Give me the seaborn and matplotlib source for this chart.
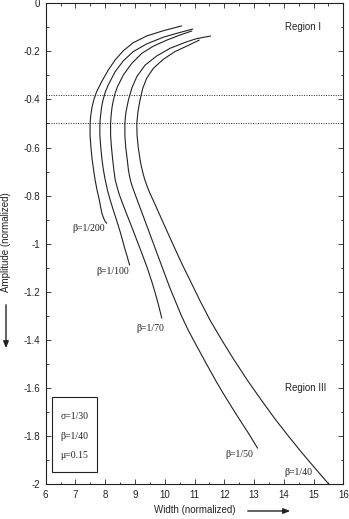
import matplotlib
matplotlib.use("Agg")
import matplotlib.pyplot as plt
import seaborn as sns
import pandas as pd
from matplotlib.ticker import MultipleLocator, FuncFormatter
from matplotlib.patches import Rectangle, FancyArrowPatch

sns.set_style("ticks")
plt.rcParams['font.family'] = ['Liberation Sans', 'DejaVu Sans']
plt.rcParams['axes.unicode_minus'] = False

# ---- data (width, amplitude) ----
x_b200 = [10.57, 9.95, 9.39, 8.94, 8.61, 8.33, 8.10, 7.88, 7.71, 7.62, 7.56, 7.515, 7.49, 7.49, 7.52, 7.56, 7.61,
          7.66, 7.73, 7.80, 7.85, 7.89, 7.95, 8.01, 8.05]
y_b200 = [-0.094, -0.114, -0.136, -0.164, -0.197, -0.236, -0.278, -0.326, -0.368, -0.40, -0.43, -0.465, -0.50,
          -0.55, -0.60, -0.65, -0.694, -0.735, -0.78, -0.818, -0.85, -0.875, -0.895, -0.91, -0.915]

x_b100 = [10.94, 10.40, 9.95, 9.39, 8.94, 8.61, 8.33, 8.10, 8.00, 7.93, 7.88, 7.845, 7.82, 7.82, 7.85, 7.89,
          7.94, 8.00, 8.08, 8.17, 8.27, 8.38, 8.50, 8.59, 8.67, 8.73, 8.77, 8.82]
y_b100 = [-0.107, -0.125, -0.141, -0.169, -0.201, -0.239, -0.285, -0.340, -0.37, -0.40, -0.43, -0.465, -0.50,
          -0.55, -0.60, -0.65, -0.694, -0.735, -0.78, -0.82, -0.86, -0.902, -0.95, -0.99, -1.026, -1.05,
          -1.068, -1.089]

x_b70 = [10.91, 10.51, 10.07, 9.62, 9.23, 8.89, 8.61, 8.41, 8.33, 8.27, 8.225, 8.195, 8.18, 8.18, 8.21, 8.25,
         8.29, 8.335, 8.40, 8.47, 8.59, 8.73, 8.89, 9.06, 9.23, 9.41, 9.57, 9.69, 9.79, 9.86, 9.90]
y_b70 = [-0.115, -0.132, -0.153, -0.178, -0.208, -0.250, -0.298, -0.347, -0.375, -0.405, -0.435, -0.47, -0.50,
         -0.55, -0.60, -0.65, -0.694, -0.735, -0.765, -0.795, -0.835, -0.88, -0.93, -0.985, -1.04, -1.10,
         -1.16, -1.21, -1.255, -1.29, -1.31]

x_b50 = [11.54, 11.07, 10.74, 10.18, 9.73, 9.34, 9.06, 8.89, 8.78, 8.70, 8.675, 8.66, 8.66, 8.69, 8.74, 8.78,
         8.81, 8.845, 8.89, 8.96, 9.05, 9.17, 9.32, 9.45, 9.62, 9.80, 9.98, 10.16, 10.34, 10.56, 10.79,
         10.96, 11.18, 11.40, 11.70, 11.95, 12.25, 12.52, 12.82, 13.12]
y_b50 = [-0.136, -0.147, -0.160, -0.187, -0.219, -0.257, -0.305, -0.354, -0.402, -0.45, -0.475, -0.50, -0.55,
         -0.60, -0.65, -0.694, -0.715, -0.735, -0.755, -0.78, -0.81, -0.85, -0.90, -0.943, -1.0, -1.06,
         -1.12, -1.18, -1.234, -1.30, -1.36, -1.40, -1.45, -1.50, -1.567, -1.62, -1.68, -1.733, -1.79, -1.851]

x_b40 = [11.16, 10.74, 10.34, 9.95, 9.62, 9.39, 9.26, 9.17, 9.10, 9.06, 9.07, 9.11, 9.17, 9.20, 9.235,
         9.275, 9.32, 9.375, 9.435, 9.50, 9.65, 9.83, 10.01, 10.16, 10.34, 10.57, 10.84, 11.17, 11.53,
         11.91, 12.31, 12.77, 13.24, 13.71, 14.17, 14.61, 15.02, 15.51]
y_b40 = [-0.153, -0.178, -0.201, -0.233, -0.270, -0.312, -0.354, -0.402, -0.45, -0.50, -0.55, -0.60, -0.65,
         -0.67, -0.69, -0.71, -0.73, -0.75, -0.77, -0.79, -0.83, -0.88, -0.93, -0.971, -1.02, -1.082, -1.15,
         -1.234, -1.32, -1.40, -1.48, -1.567, -1.65, -1.73, -1.803, -1.87, -1.93, -2.0]

curve_names = ["1/200", "1/100", "1/70", "1/50", "1/40"]
curve_x = [x_b200, x_b100, x_b70, x_b50, x_b40]
curve_y = [y_b200, y_b100, y_b70, y_b50, y_b40]

region_boundaries = [-0.38, -0.50]
params = ["\u03c3=1/30", "\u03b2=1/40", "\u03bc=0.15"]

frames = []
for name, xs, ys in zip(curve_names, curve_x, curve_y):
    frames.append(pd.DataFrame({"width": xs, "amp": ys, "beta": name}))
df = pd.concat(frames, ignore_index=True)

# ---- figure ----
fig = plt.figure(figsize=(3.49, 5.19), dpi=100)
ax = fig.add_axes([0.131, 0.0674, 0.8527, 0.9262])

LC = "#222222"
sns.lineplot(data=df, x="width", y="amp", units="beta", estimator=None,
             sort=False, color=LC, linewidth=0.8, ax=ax, legend=False)

for yb in region_boundaries:
    ax.axhline(yb, color=LC, linewidth=0.7, linestyle=(0, (1.0, 1.5)))

ax.set_xlim(6, 16)
ax.set_ylim(-2, 0)
ax.xaxis.set_major_locator(MultipleLocator(1))
ax.xaxis.set_minor_locator(MultipleLocator(0.5))
ax.yaxis.set_major_locator(MultipleLocator(0.2))
ax.yaxis.set_minor_locator(MultipleLocator(0.1))
ax.yaxis.set_major_formatter(FuncFormatter(lambda v, p: f"{v:g}" if abs(v) > 1e-9 else "0"))
ax.xaxis.set_major_formatter(FuncFormatter(lambda v, p: f"{v:g}"))
ax.tick_params(which="both", direction="in", top=True, right=True, width=0.6, color=LC)
ax.tick_params(which="major", length=3.3, labelsize=7, colors=LC, pad=4)
ax.tick_params(which="minor", length=1.8)
ax.tick_params(axis="x", which="major", pad=4.5)
for s in ax.spines.values():
    s.set_linewidth(0.8)
    s.set_color(LC)
ax.set_xlabel("")
ax.set_ylabel("")

serif = ['Liberation Serif', 'DejaVu Serif']
tkw = dict(fontsize=7, family=serif, color=LC, ha="center", va="center")
ax.text(7.44, -0.935, "\u03b2=1/200", **tkw)
ax.text(8.26, -1.117, "\u03b2=1/100", **tkw)
ax.text(9.50, -1.352, "\u03b2=1/70", **tkw)
ax.text(12.50, -1.879, "\u03b2=1/50", **tkw)
ax.text(14.49, -1.951, "\u03b2=1/40", **tkw)

ax.text(14.64, -0.097, "Region I", fontsize=7, color=LC, ha="center", va="center")
ax.text(14.72, -1.602, "Region III", fontsize=7, color=LC, ha="center", va="center")

ax.add_patch(Rectangle((6.20, -1.95), 1.51, 0.311, fill=False, edgecolor=LC, linewidth=0.8))
for t, yy in zip(params, [-1.72, -1.803, -1.883]):
    ax.text(6.97, yy, t, **tkw)

W, H = 349, 519
fig.text(195 / W, 1 - 510 / H, "Width (normalized)", fontsize=7, color=LC, ha="center", va="center")
fig.text(6 / W, 1 - 242 / H, "Amplitude (normalized)", fontsize=7, color=LC,
         ha="center", va="center", rotation=90)
fig.patches.append(FancyArrowPatch(
    (245 / W, 1 - 511 / H), (293 / W, 1 - 511 / H), transform=fig.transFigure,
    arrowstyle="-|>,head_length=4,head_width=1.6", color=LC, linewidth=1.0))
fig.patches.append(FancyArrowPatch(
    (6 / W, 1 - 302 / H), (6 / W, 1 - 351 / H), transform=fig.transFigure,
    arrowstyle="-|>,head_length=4,head_width=1.6", color=LC, linewidth=1.0))

fig.savefig("out.png", dpi=100)
